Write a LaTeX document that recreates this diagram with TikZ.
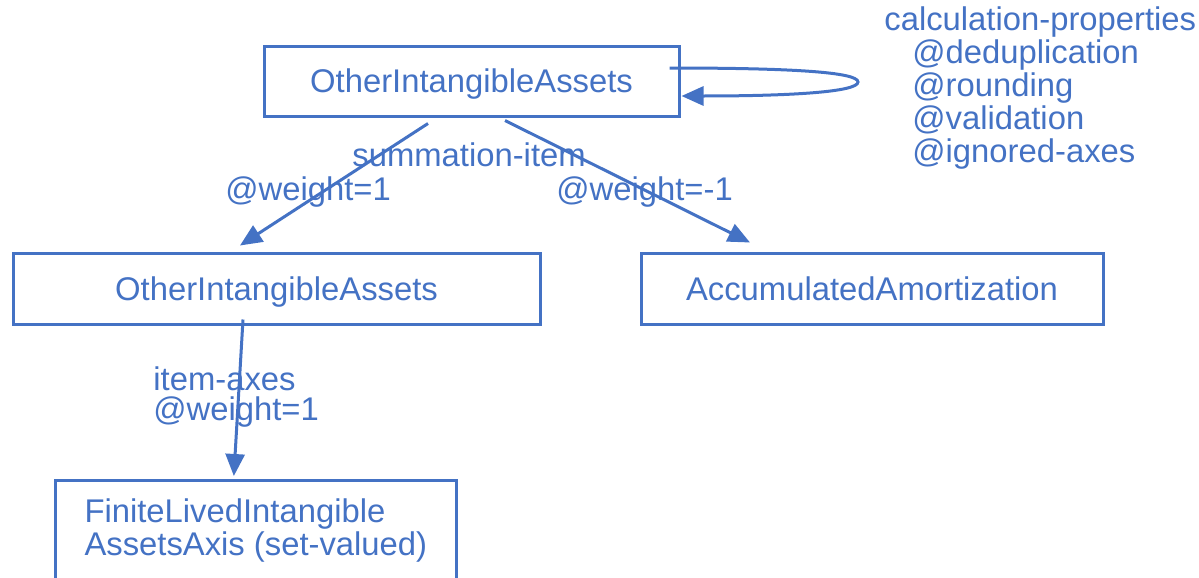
\documentclass[tikz,border=0pt]{standalone}
\usepackage{fontspec}
\setmainfont{Liberation Sans}
\usetikzlibrary{arrows.meta,calc}
\definecolor{edgeblue}{HTML}{4472C4}

\begin{document}
\begin{tikzpicture}[x=0.5pt,y=-0.5pt,
  every node/.style={font=\fontsize{16.4}{16.5}\selectfont, text=edgeblue},
  box/.style={draw=edgeblue, line width=1.5pt, rectangle, inner sep=0pt,
    text height=11.8pt, text depth=0pt},
  link/.style={draw=edgeblue, line width=1.5pt,
    -{Triangle[length=11pt,width=9.5pt]}},
  lbl/.style={anchor=base west, inner sep=0pt}]
\useasboundingbox (0,0) rectangle (1199,578);

% concept boxes
\node[box, minimum width=207.5pt, minimum height=35pt] (top) at (471.5,81) {OtherIntangibleAssets};
\node[box, minimum width=263.5pt, minimum height=35.5pt] (midL) at (276.5,288.5) {OtherIntangibleAssets};
\node[box, minimum width=231pt, minimum height=35.5pt] (midR) at (872,288.5) {AccumulatedAmortization};
\node[box, anchor=north west, align=left, inner xsep=14.5pt, inner ysep=9pt,
  text height=28.5pt, text depth=60pt, minimum width=200pt] (axis) at (54,479)
  {FiniteLivedIntangible\\AssetsAxis (set-valued)};

% summation arcs
\draw[link] ($(top.south)+(-43.5,6)$) -- ($(midL.north)+(-36.5,-6)$);
\draw[link] ($(top.south)+(33.5,3)$) -- ($(midR.north)+(-122,-9)$);
% item-axes arc
\draw[link] ($(midL.south)+(-33.5,-6)$) -- ($(axis.north)+(-22,-3)$);
% calculation-properties self loop
\coordinate (loopturn) at (858,82);
\draw[link] ($(top.east)+(-11,-13)$) .. controls (790,68) and (858,72) .. (loopturn)
  .. controls (858,92) and (790,96) .. ($(top.east)+(1,15)$);

% arc labels
\node[lbl] (sumlbl) at (352,166) {summation-item};
\node[lbl] (wleft) at (225,200) {@weight=1};
\node[lbl] (wright) at (556,200) {@weight=-1};
\node[lbl] (axlbl) at (153,390) {item-axes};
\node[lbl] (axw) at (153,420) {@weight=1};

% calculation properties
\node[lbl] (props) at (884,30) {calculation-properties};
\node[lbl] (pdedup) at (912,63) {@deduplication};
\node[lbl] (pround) at (912,96) {@rounding};
\node[lbl] (pvalid) at (912,129) {@validation};
\node[lbl] (paxes) at (912,162) {@ignored-axes};
\end{tikzpicture}
\end{document}
